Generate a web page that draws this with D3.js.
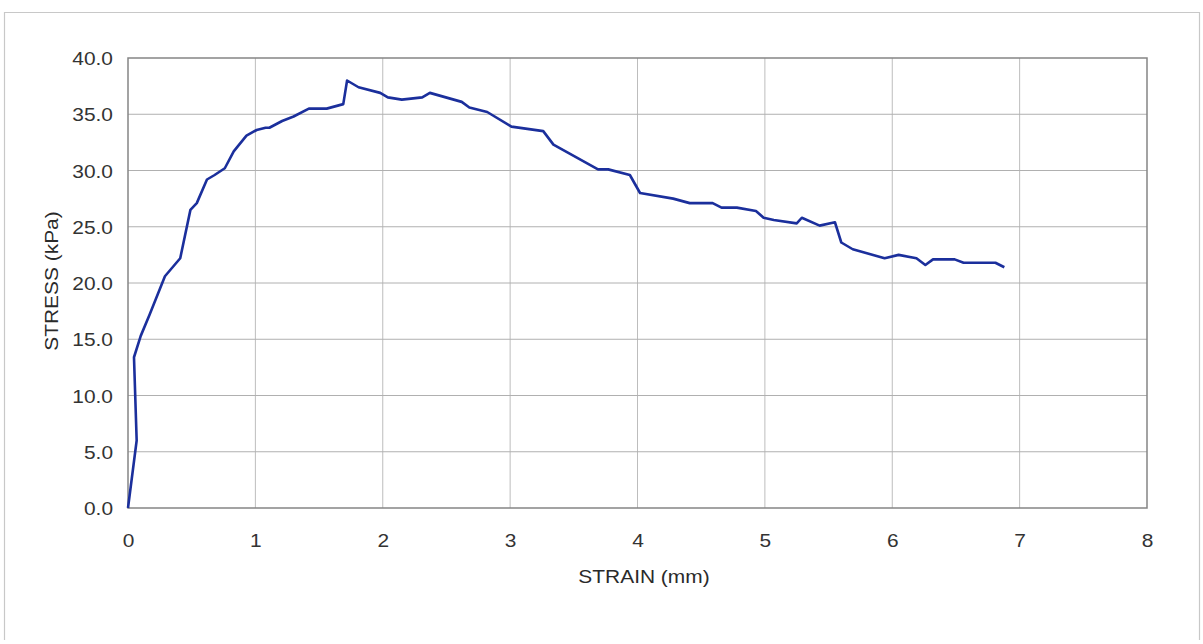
<!DOCTYPE html>
<html>
<head>
<meta charset="utf-8">
<script src="https://cdn.jsdelivr.net/npm/d3@7"></script>
<style>
  html, body { margin: 0; padding: 0; background: #fff; }
  svg { display: block; }
  text { font-family: "Liberation Sans", Arial, sans-serif; fill: #2a2a2a; }
</style>
</head>
<body>
<svg id="chart" width="1203" height="644"></svg>
<script>
// Data
const strain = [0.00, 0.068, 0.047, 0.10, 0.17, 0.29, 0.41, 0.49, 0.54, 0.62, 0.68, 0.76, 0.83, 0.93, 1.01, 1.08, 1.11, 1.21, 1.30, 1.42, 1.56, 1.69, 1.72, 1.81, 1.98, 2.04, 2.15, 2.31, 2.37, 2.62, 2.68, 2.82, 3.01, 3.26, 3.34, 3.69, 3.77, 3.94, 4.02, 4.28, 4.41, 4.59, 4.66, 4.78, 4.93, 4.99, 5.07, 5.25, 5.29, 5.43, 5.55, 5.60, 5.69, 5.94, 6.05, 6.19, 6.26, 6.32, 6.49, 6.56, 6.81, 6.88];
const stress = [0.0, 6.0, 13.4, 15.3, 17.2, 20.6, 22.2, 26.5, 27.1, 29.2, 29.6, 30.2, 31.7, 33.1, 33.6, 33.8, 33.8, 34.4, 34.8, 35.5, 35.5, 35.9, 38.0, 37.4, 36.9, 36.5, 36.3, 36.5, 36.9, 36.1, 35.6, 35.2, 33.9, 33.5, 32.3, 30.1, 30.1, 29.6, 28.0, 27.5, 27.1, 27.1, 26.7, 26.7, 26.4, 25.8, 25.6, 25.3, 25.8, 25.1, 25.4, 23.6, 23.0, 22.2, 22.5, 22.2, 21.6, 22.1, 22.1, 21.8, 21.8, 21.4];
const xTicks = [0, 1, 2, 3, 4, 5, 6, 7, 8];
const yTicks = [0, 5, 10, 15, 20, 25, 30, 35, 40];
const xTitle = "STRAIN (mm)";
const yTitle = "STRESS (kPa)";

const svg = d3.select("#chart");
const plot = { left: 128, top: 58, right: 1147, bottom: 508 };
const FS = "18.5px";
const STRETCH = 1.13;

const x = d3.scaleLinear().domain([0, 8]).range([plot.left, plot.right]);
const y = d3.scaleLinear().domain([0, 40]).range([plot.bottom, plot.top]);

function widen(sel) {
  sel.each(function () {
    const w = this.getComputedTextLength();
    d3.select(this).attr("textLength", w * STRETCH).attr("lengthAdjust", "spacingAndGlyphs");
  });
}

// outer frame (faint)
svg.append("path")
  .attr("d", `M4.5,640 V12.5 H1199.5 V640`)
  .attr("fill", "none").attr("stroke", "#c8c8c8").attr("stroke-width", 1.2);

// gridlines
svg.append("g").selectAll("line").data(xTicks.slice(1, -1)).join("line")
  .attr("x1", d => x(d)).attr("x2", d => x(d))
  .attr("y1", plot.top).attr("y2", plot.bottom)
  .attr("stroke", "#bdbdbd").attr("stroke-width", 1);
svg.append("g").selectAll("line").data(yTicks.slice(1, -1)).join("line")
  .attr("x1", plot.left).attr("x2", plot.right)
  .attr("y1", d => y(d)).attr("y2", d => y(d))
  .attr("stroke", "#b0b0b0").attr("stroke-width", 1);

// plot border
svg.append("rect")
  .attr("x", plot.left).attr("y", plot.top)
  .attr("width", plot.right - plot.left).attr("height", plot.bottom - plot.top)
  .attr("fill", "none").attr("stroke", "#858585").attr("stroke-width", 1.5);

// axes labels
const xAxis = d3.axisBottom(x).tickValues(xTicks).tickFormat(d3.format("d")).tickSize(0).tickPadding(0);
const gx = svg.append("g").attr("transform", `translate(0,${plot.bottom})`).call(xAxis);
gx.select(".domain").remove();
gx.selectAll("text").attr("dy", 0).attr("y", 39).style("font-size", FS).style("fill", "#333")
  .style("font-family", '"Liberation Sans", Arial, sans-serif').call(widen);

const yAxis = d3.axisLeft(y).tickValues(yTicks).tickFormat(d3.format(".1f")).tickSize(0).tickPadding(0);
const gy = svg.append("g").attr("transform", `translate(${plot.left},0)`).call(yAxis);
gy.select(".domain").remove();
gy.selectAll("text").attr("x", -15).attr("dy", "0.36em").style("font-size", FS).style("fill", "#333")
  .style("font-family", '"Liberation Sans", Arial, sans-serif').call(widen);

// titles
svg.append("text").attr("x", 644).attr("y", 583)
  .attr("text-anchor", "middle").style("font-size", FS).text(xTitle).call(widen);
svg.append("text")
  .attr("transform", `translate(58,281) rotate(-90)`)
  .attr("text-anchor", "middle").style("font-size", FS).text(yTitle).call(widen);

// line
const line = d3.line().x((d, i) => x(strain[i])).y((d, i) => y(stress[i]));
svg.append("path").datum(stress)
  .attr("d", line)
  .attr("fill", "none").attr("stroke", "#1b2f9c").attr("stroke-width", 2.6)
  .attr("stroke-linejoin", "round");
</script>
</body>
</html>
